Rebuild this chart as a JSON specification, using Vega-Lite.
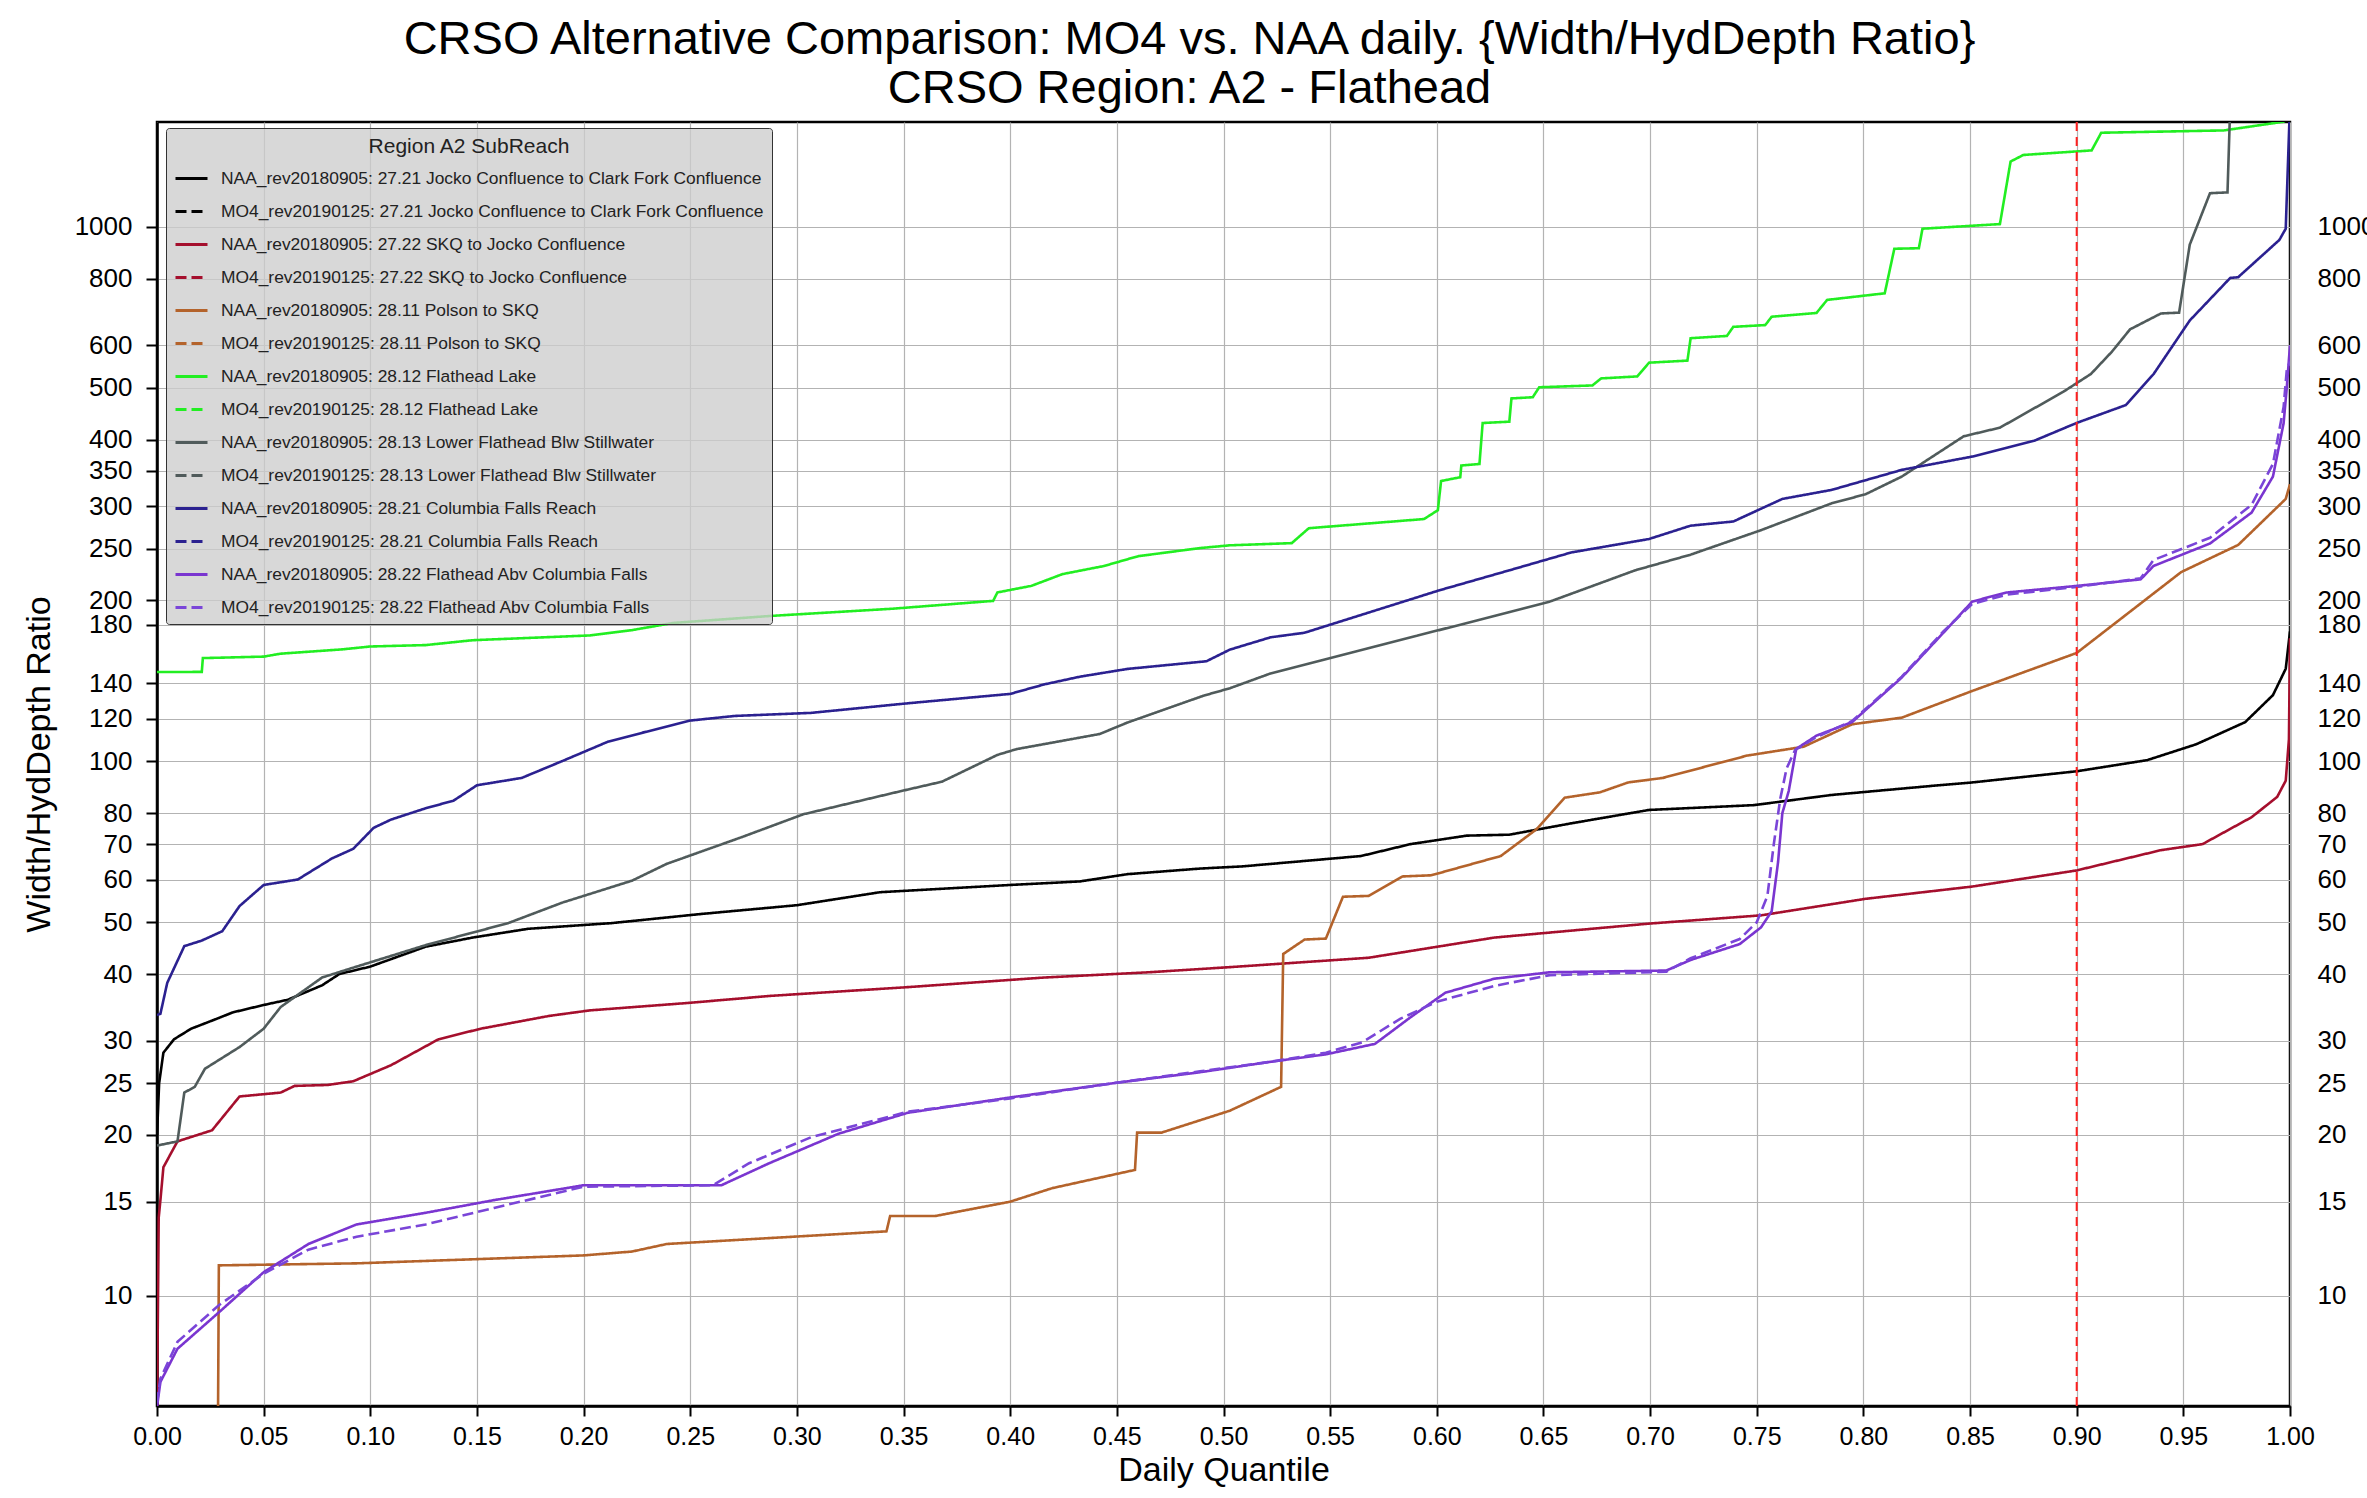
{
  "$schema": "https://vega.github.io/schema/vega-lite/v6.json",
  "autosize": "none",
  "width": 2133,
  "height": 1284,
  "padding": {"left": 157, "top": 122, "right": 77, "bottom": 92},
  "background": "white",
  "title": {
    "text": ["CRSO Alternative Comparison: MO4 vs. NAA daily. {Width/HydDepth Ratio}", "CRSO Region: A2 - Flathead"],
    "fontSize": 47, "fontWeight": "normal", "font": "Liberation Sans", "color": "black",
    "anchor": "middle", "dx": -34, "dy": 49, "lineHeight": 49, "offset": 10, "baseline": "bottom", "limit": 2300
  },
  "datasets": {
    "naa": [
      {"s":"NAA_rev20180905: 27.21 Jocko Confluence to Clark Fork Confluence","q":0,"v":20},
      {"s":"NAA_rev20180905: 27.21 Jocko Confluence to Clark Fork Confluence","q":0.001,"v":25},
      {"s":"NAA_rev20180905: 27.21 Jocko Confluence to Clark Fork Confluence","q":0.003,"v":28.5},
      {"s":"NAA_rev20180905: 27.21 Jocko Confluence to Clark Fork Confluence","q":0.008,"v":30.2},
      {"s":"NAA_rev20180905: 27.21 Jocko Confluence to Clark Fork Confluence","q":0.016,"v":31.6},
      {"s":"NAA_rev20180905: 27.21 Jocko Confluence to Clark Fork Confluence","q":0.029,"v":33.1},
      {"s":"NAA_rev20180905: 27.21 Jocko Confluence to Clark Fork Confluence","q":0.0355,"v":33.9},
      {"s":"NAA_rev20180905: 27.21 Jocko Confluence to Clark Fork Confluence","q":0.05,"v":35.0},
      {"s":"NAA_rev20180905: 27.21 Jocko Confluence to Clark Fork Confluence","q":0.0613,"v":35.8},
      {"s":"NAA_rev20180905: 27.21 Jocko Confluence to Clark Fork Confluence","q":0.0774,"v":38.1},
      {"s":"NAA_rev20180905: 27.21 Jocko Confluence to Clark Fork Confluence","q":0.0855,"v":40.0},
      {"s":"NAA_rev20180905: 27.21 Jocko Confluence to Clark Fork Confluence","q":0.1,"v":41.3},
      {"s":"NAA_rev20180905: 27.21 Jocko Confluence to Clark Fork Confluence","q":0.126,"v":45.0},
      {"s":"NAA_rev20180905: 27.21 Jocko Confluence to Clark Fork Confluence","q":0.148,"v":46.8},
      {"s":"NAA_rev20180905: 27.21 Jocko Confluence to Clark Fork Confluence","q":0.174,"v":48.6},
      {"s":"NAA_rev20180905: 27.21 Jocko Confluence to Clark Fork Confluence","q":0.2,"v":49.4},
      {"s":"NAA_rev20180905: 27.21 Jocko Confluence to Clark Fork Confluence","q":0.213,"v":49.8},
      {"s":"NAA_rev20180905: 27.21 Jocko Confluence to Clark Fork Confluence","q":0.255,"v":51.8},
      {"s":"NAA_rev20180905: 27.21 Jocko Confluence to Clark Fork Confluence","q":0.3,"v":53.8},
      {"s":"NAA_rev20180905: 27.21 Jocko Confluence to Clark Fork Confluence","q":0.339,"v":56.9},
      {"s":"NAA_rev20180905: 27.21 Jocko Confluence to Clark Fork Confluence","q":0.4,"v":58.7},
      {"s":"NAA_rev20180905: 27.21 Jocko Confluence to Clark Fork Confluence","q":0.4326,"v":59.6},
      {"s":"NAA_rev20180905: 27.21 Jocko Confluence to Clark Fork Confluence","q":0.455,"v":61.5},
      {"s":"NAA_rev20180905: 27.21 Jocko Confluence to Clark Fork Confluence","q":0.489,"v":63.0},
      {"s":"NAA_rev20180905: 27.21 Jocko Confluence to Clark Fork Confluence","q":0.509,"v":63.6},
      {"s":"NAA_rev20180905: 27.21 Jocko Confluence to Clark Fork Confluence","q":0.5645,"v":66.5},
      {"s":"NAA_rev20180905: 27.21 Jocko Confluence to Clark Fork Confluence","q":0.5877,"v":70.0},
      {"s":"NAA_rev20180905: 27.21 Jocko Confluence to Clark Fork Confluence","q":0.614,"v":72.6},
      {"s":"NAA_rev20180905: 27.21 Jocko Confluence to Clark Fork Confluence","q":0.634,"v":72.9},
      {"s":"NAA_rev20180905: 27.21 Jocko Confluence to Clark Fork Confluence","q":0.6634,"v":76.6},
      {"s":"NAA_rev20180905: 27.21 Jocko Confluence to Clark Fork Confluence","q":0.6995,"v":81.1},
      {"s":"NAA_rev20180905: 27.21 Jocko Confluence to Clark Fork Confluence","q":0.7487,"v":82.8},
      {"s":"NAA_rev20180905: 27.21 Jocko Confluence to Clark Fork Confluence","q":0.785,"v":86.5},
      {"s":"NAA_rev20180905: 27.21 Jocko Confluence to Clark Fork Confluence","q":0.834,"v":90.1},
      {"s":"NAA_rev20180905: 27.21 Jocko Confluence to Clark Fork Confluence","q":0.851,"v":91.3},
      {"s":"NAA_rev20180905: 27.21 Jocko Confluence to Clark Fork Confluence","q":0.9,"v":95.8},
      {"s":"NAA_rev20180905: 27.21 Jocko Confluence to Clark Fork Confluence","q":0.933,"v":100.5},
      {"s":"NAA_rev20180905: 27.21 Jocko Confluence to Clark Fork Confluence","q":0.956,"v":107.6},
      {"s":"NAA_rev20180905: 27.21 Jocko Confluence to Clark Fork Confluence","q":0.979,"v":118.4},
      {"s":"NAA_rev20180905: 27.21 Jocko Confluence to Clark Fork Confluence","q":0.992,"v":133},
      {"s":"NAA_rev20180905: 27.21 Jocko Confluence to Clark Fork Confluence","q":0.998,"v":149},
      {"s":"NAA_rev20180905: 27.21 Jocko Confluence to Clark Fork Confluence","q":1.0,"v":175},

      {"s":"NAA_rev20180905: 27.22 SKQ to Jocko Confluence","q":0,"v":6.0},
      {"s":"NAA_rev20180905: 27.22 SKQ to Jocko Confluence","q":0.0008,"v":14},
      {"s":"NAA_rev20180905: 27.22 SKQ to Jocko Confluence","q":0.0016,"v":15.1},
      {"s":"NAA_rev20180905: 27.22 SKQ to Jocko Confluence","q":0.003,"v":17.4},
      {"s":"NAA_rev20180905: 27.22 SKQ to Jocko Confluence","q":0.0096,"v":19.45},
      {"s":"NAA_rev20180905: 27.22 SKQ to Jocko Confluence","q":0.0258,"v":20.4},
      {"s":"NAA_rev20180905: 27.22 SKQ to Jocko Confluence","q":0.0387,"v":23.6},
      {"s":"NAA_rev20180905: 27.22 SKQ to Jocko Confluence","q":0.058,"v":24.0},
      {"s":"NAA_rev20180905: 27.22 SKQ to Jocko Confluence","q":0.0645,"v":24.7},
      {"s":"NAA_rev20180905: 27.22 SKQ to Jocko Confluence","q":0.08,"v":24.8},
      {"s":"NAA_rev20180905: 27.22 SKQ to Jocko Confluence","q":0.092,"v":25.2},
      {"s":"NAA_rev20180905: 27.22 SKQ to Jocko Confluence","q":0.1097,"v":27.0},
      {"s":"NAA_rev20180905: 27.22 SKQ to Jocko Confluence","q":0.132,"v":30.2},
      {"s":"NAA_rev20180905: 27.22 SKQ to Jocko Confluence","q":0.1517,"v":31.6},
      {"s":"NAA_rev20180905: 27.22 SKQ to Jocko Confluence","q":0.184,"v":33.4},
      {"s":"NAA_rev20180905: 27.22 SKQ to Jocko Confluence","q":0.203,"v":34.2},
      {"s":"NAA_rev20180905: 27.22 SKQ to Jocko Confluence","q":0.2486,"v":35.3},
      {"s":"NAA_rev20180905: 27.22 SKQ to Jocko Confluence","q":0.2875,"v":36.4},
      {"s":"NAA_rev20180905: 27.22 SKQ to Jocko Confluence","q":0.352,"v":37.8},
      {"s":"NAA_rev20180905: 27.22 SKQ to Jocko Confluence","q":0.416,"v":39.4},
      {"s":"NAA_rev20180905: 27.22 SKQ to Jocko Confluence","q":0.465,"v":40.3},
      {"s":"NAA_rev20180905: 27.22 SKQ to Jocko Confluence","q":0.503,"v":41.2},
      {"s":"NAA_rev20180905: 27.22 SKQ to Jocko Confluence","q":0.568,"v":42.9},
      {"s":"NAA_rev20180905: 27.22 SKQ to Jocko Confluence","q":0.627,"v":46.8},
      {"s":"NAA_rev20180905: 27.22 SKQ to Jocko Confluence","q":0.6995,"v":49.7},
      {"s":"NAA_rev20180905: 27.22 SKQ to Jocko Confluence","q":0.752,"v":51.5},
      {"s":"NAA_rev20180905: 27.22 SKQ to Jocko Confluence","q":0.801,"v":55.3},
      {"s":"NAA_rev20180905: 27.22 SKQ to Jocko Confluence","q":0.851,"v":58.3},
      {"s":"NAA_rev20180905: 27.22 SKQ to Jocko Confluence","q":0.9,"v":62.5},
      {"s":"NAA_rev20180905: 27.22 SKQ to Jocko Confluence","q":0.9395,"v":68.2},
      {"s":"NAA_rev20180905: 27.22 SKQ to Jocko Confluence","q":0.959,"v":70.0},
      {"s":"NAA_rev20180905: 27.22 SKQ to Jocko Confluence","q":0.982,"v":78.6},
      {"s":"NAA_rev20180905: 27.22 SKQ to Jocko Confluence","q":0.994,"v":85.8},
      {"s":"NAA_rev20180905: 27.22 SKQ to Jocko Confluence","q":0.998,"v":92},
      {"s":"NAA_rev20180905: 27.22 SKQ to Jocko Confluence","q":0.9995,"v":110},
      {"s":"NAA_rev20180905: 27.22 SKQ to Jocko Confluence","q":1.0,"v":170},

      {"s":"NAA_rev20180905: 28.11 Polson to SKQ","q":0.0285,"v":5},
      {"s":"NAA_rev20180905: 28.11 Polson to SKQ","q":0.029,"v":11.4},
      {"s":"NAA_rev20180905: 28.11 Polson to SKQ","q":0.0936,"v":11.5},
      {"s":"NAA_rev20180905: 28.11 Polson to SKQ","q":0.2,"v":11.9},
      {"s":"NAA_rev20180905: 28.11 Polson to SKQ","q":0.2227,"v":12.1},
      {"s":"NAA_rev20180905: 28.11 Polson to SKQ","q":0.239,"v":12.5},
      {"s":"NAA_rev20180905: 28.11 Polson to SKQ","q":0.342,"v":13.2},
      {"s":"NAA_rev20180905: 28.11 Polson to SKQ","q":0.3437,"v":14.1},
      {"s":"NAA_rev20180905: 28.11 Polson to SKQ","q":0.3648,"v":14.1},
      {"s":"NAA_rev20180905: 28.11 Polson to SKQ","q":0.4,"v":15.0},
      {"s":"NAA_rev20180905: 28.11 Polson to SKQ","q":0.4197,"v":15.9},
      {"s":"NAA_rev20180905: 28.11 Polson to SKQ","q":0.4585,"v":17.2},
      {"s":"NAA_rev20180905: 28.11 Polson to SKQ","q":0.4595,"v":20.2},
      {"s":"NAA_rev20180905: 28.11 Polson to SKQ","q":0.471,"v":20.2},
      {"s":"NAA_rev20180905: 28.11 Polson to SKQ","q":0.489,"v":21.3},
      {"s":"NAA_rev20180905: 28.11 Polson to SKQ","q":0.503,"v":22.2},
      {"s":"NAA_rev20180905: 28.11 Polson to SKQ","q":0.527,"v":24.6},
      {"s":"NAA_rev20180905: 28.11 Polson to SKQ","q":0.528,"v":43.6},
      {"s":"NAA_rev20180905: 28.11 Polson to SKQ","q":0.538,"v":46.4},
      {"s":"NAA_rev20180905: 28.11 Polson to SKQ","q":0.548,"v":46.6},
      {"s":"NAA_rev20180905: 28.11 Polson to SKQ","q":0.556,"v":55.8},
      {"s":"NAA_rev20180905: 28.11 Polson to SKQ","q":0.568,"v":56.0},
      {"s":"NAA_rev20180905: 28.11 Polson to SKQ","q":0.584,"v":60.9},
      {"s":"NAA_rev20180905: 28.11 Polson to SKQ","q":0.5974,"v":61.2},
      {"s":"NAA_rev20180905: 28.11 Polson to SKQ","q":0.63,"v":66.5},
      {"s":"NAA_rev20180905: 28.11 Polson to SKQ","q":0.6467,"v":74.6},
      {"s":"NAA_rev20180905: 28.11 Polson to SKQ","q":0.66,"v":85.5},
      {"s":"NAA_rev20180905: 28.11 Polson to SKQ","q":0.6765,"v":87.5},
      {"s":"NAA_rev20180905: 28.11 Polson to SKQ","q":0.6897,"v":91.3},
      {"s":"NAA_rev20180905: 28.11 Polson to SKQ","q":0.706,"v":93.1},
      {"s":"NAA_rev20180905: 28.11 Polson to SKQ","q":0.7455,"v":102.5},
      {"s":"NAA_rev20180905: 28.11 Polson to SKQ","q":0.772,"v":106.5},
      {"s":"NAA_rev20180905: 28.11 Polson to SKQ","q":0.7947,"v":117.3},
      {"s":"NAA_rev20180905: 28.11 Polson to SKQ","q":0.818,"v":120.7},
      {"s":"NAA_rev20180905: 28.11 Polson to SKQ","q":0.851,"v":135.4},
      {"s":"NAA_rev20180905: 28.11 Polson to SKQ","q":0.9,"v":159.5},
      {"s":"NAA_rev20180905: 28.11 Polson to SKQ","q":0.949,"v":226},
      {"s":"NAA_rev20180905: 28.11 Polson to SKQ","q":0.9757,"v":254},
      {"s":"NAA_rev20180905: 28.11 Polson to SKQ","q":0.998,"v":309.7},
      {"s":"NAA_rev20180905: 28.11 Polson to SKQ","q":1.0,"v":330},

      {"s":"NAA_rev20180905: 28.12 Flathead Lake","q":0,"v":146.9},
      {"s":"NAA_rev20180905: 28.12 Flathead Lake","q":0.021,"v":147},
      {"s":"NAA_rev20180905: 28.12 Flathead Lake","q":0.0215,"v":156},
      {"s":"NAA_rev20180905: 28.12 Flathead Lake","q":0.05,"v":157},
      {"s":"NAA_rev20180905: 28.12 Flathead Lake","q":0.058,"v":159},
      {"s":"NAA_rev20180905: 28.12 Flathead Lake","q":0.087,"v":162},
      {"s":"NAA_rev20180905: 28.12 Flathead Lake","q":0.1,"v":164},
      {"s":"NAA_rev20180905: 28.12 Flathead Lake","q":0.126,"v":165},
      {"s":"NAA_rev20180905: 28.12 Flathead Lake","q":0.148,"v":168.5},
      {"s":"NAA_rev20180905: 28.12 Flathead Lake","q":0.203,"v":172},
      {"s":"NAA_rev20180905: 28.12 Flathead Lake","q":0.2227,"v":176},
      {"s":"NAA_rev20180905: 28.12 Flathead Lake","q":0.242,"v":181.5},
      {"s":"NAA_rev20180905: 28.12 Flathead Lake","q":0.287,"v":187},
      {"s":"NAA_rev20180905: 28.12 Flathead Lake","q":0.345,"v":193},
      {"s":"NAA_rev20180905: 28.12 Flathead Lake","q":0.392,"v":199.6},
      {"s":"NAA_rev20180905: 28.12 Flathead Lake","q":0.394,"v":207},
      {"s":"NAA_rev20180905: 28.12 Flathead Lake","q":0.41,"v":213},
      {"s":"NAA_rev20180905: 28.12 Flathead Lake","q":0.4245,"v":224},
      {"s":"NAA_rev20180905: 28.12 Flathead Lake","q":0.444,"v":232},
      {"s":"NAA_rev20180905: 28.12 Flathead Lake","q":0.46,"v":242},
      {"s":"NAA_rev20180905: 28.12 Flathead Lake","q":0.489,"v":250.6},
      {"s":"NAA_rev20180905: 28.12 Flathead Lake","q":0.503,"v":253.6},
      {"s":"NAA_rev20180905: 28.12 Flathead Lake","q":0.532,"v":256},
      {"s":"NAA_rev20180905: 28.12 Flathead Lake","q":0.54,"v":273},
      {"s":"NAA_rev20180905: 28.12 Flathead Lake","q":0.594,"v":284},
      {"s":"NAA_rev20180905: 28.12 Flathead Lake","q":0.6005,"v":295},
      {"s":"NAA_rev20180905: 28.12 Flathead Lake","q":0.602,"v":334.6},
      {"s":"NAA_rev20180905: 28.12 Flathead Lake","q":0.611,"v":340},
      {"s":"NAA_rev20180905: 28.12 Flathead Lake","q":0.6115,"v":357.7},
      {"s":"NAA_rev20180905: 28.12 Flathead Lake","q":0.62,"v":360},
      {"s":"NAA_rev20180905: 28.12 Flathead Lake","q":0.6215,"v":429.5},
      {"s":"NAA_rev20180905: 28.12 Flathead Lake","q":0.634,"v":432},
      {"s":"NAA_rev20180905: 28.12 Flathead Lake","q":0.635,"v":477.5},
      {"s":"NAA_rev20180905: 28.12 Flathead Lake","q":0.645,"v":480},
      {"s":"NAA_rev20180905: 28.12 Flathead Lake","q":0.648,"v":501},
      {"s":"NAA_rev20180905: 28.12 Flathead Lake","q":0.673,"v":505},
      {"s":"NAA_rev20180905: 28.12 Flathead Lake","q":0.677,"v":520.5},
      {"s":"NAA_rev20180905: 28.12 Flathead Lake","q":0.694,"v":525},
      {"s":"NAA_rev20180905: 28.12 Flathead Lake","q":0.6995,"v":557},
      {"s":"NAA_rev20180905: 28.12 Flathead Lake","q":0.7175,"v":562},
      {"s":"NAA_rev20180905: 28.12 Flathead Lake","q":0.719,"v":619},
      {"s":"NAA_rev20180905: 28.12 Flathead Lake","q":0.736,"v":625},
      {"s":"NAA_rev20180905: 28.12 Flathead Lake","q":0.739,"v":650},
      {"s":"NAA_rev20180905: 28.12 Flathead Lake","q":0.754,"v":655},
      {"s":"NAA_rev20180905: 28.12 Flathead Lake","q":0.757,"v":679},
      {"s":"NAA_rev20180905: 28.12 Flathead Lake","q":0.778,"v":690},
      {"s":"NAA_rev20180905: 28.12 Flathead Lake","q":0.783,"v":730},
      {"s":"NAA_rev20180905: 28.12 Flathead Lake","q":0.81,"v":751},
      {"s":"NAA_rev20180905: 28.12 Flathead Lake","q":0.8145,"v":910},
      {"s":"NAA_rev20180905: 28.12 Flathead Lake","q":0.826,"v":912},
      {"s":"NAA_rev20180905: 28.12 Flathead Lake","q":0.8277,"v":992},
      {"s":"NAA_rev20180905: 28.12 Flathead Lake","q":0.864,"v":1012},
      {"s":"NAA_rev20180905: 28.12 Flathead Lake","q":0.869,"v":1325},
      {"s":"NAA_rev20180905: 28.12 Flathead Lake","q":0.875,"v":1363},
      {"s":"NAA_rev20180905: 28.12 Flathead Lake","q":0.907,"v":1390},
      {"s":"NAA_rev20180905: 28.12 Flathead Lake","q":0.9115,"v":1500},
      {"s":"NAA_rev20180905: 28.12 Flathead Lake","q":0.969,"v":1515},
      {"s":"NAA_rev20180905: 28.12 Flathead Lake","q":0.997,"v":1573},
      {"s":"NAA_rev20180905: 28.12 Flathead Lake","q":1.0,"v":1600},

      {"s":"NAA_rev20180905: 28.13 Lower Flathead Blw Stillwater","q":0,"v":19.1},
      {"s":"NAA_rev20180905: 28.13 Lower Flathead Blw Stillwater","q":0.0096,"v":19.45},
      {"s":"NAA_rev20180905: 28.13 Lower Flathead Blw Stillwater","q":0.0128,"v":24.0},
      {"s":"NAA_rev20180905: 28.13 Lower Flathead Blw Stillwater","q":0.0177,"v":24.6},
      {"s":"NAA_rev20180905: 28.13 Lower Flathead Blw Stillwater","q":0.0225,"v":26.6},
      {"s":"NAA_rev20180905: 28.13 Lower Flathead Blw Stillwater","q":0.0387,"v":29.2},
      {"s":"NAA_rev20180905: 28.13 Lower Flathead Blw Stillwater","q":0.05,"v":31.6},
      {"s":"NAA_rev20180905: 28.13 Lower Flathead Blw Stillwater","q":0.058,"v":34.7},
      {"s":"NAA_rev20180905: 28.13 Lower Flathead Blw Stillwater","q":0.0774,"v":39.4},
      {"s":"NAA_rev20180905: 28.13 Lower Flathead Blw Stillwater","q":0.0936,"v":41.3},
      {"s":"NAA_rev20180905: 28.13 Lower Flathead Blw Stillwater","q":0.126,"v":45.3},
      {"s":"NAA_rev20180905: 28.13 Lower Flathead Blw Stillwater","q":0.1646,"v":49.8},
      {"s":"NAA_rev20180905: 28.13 Lower Flathead Blw Stillwater","q":0.19,"v":54.4},
      {"s":"NAA_rev20180905: 28.13 Lower Flathead Blw Stillwater","q":0.2227,"v":59.8},
      {"s":"NAA_rev20180905: 28.13 Lower Flathead Blw Stillwater","q":0.239,"v":64.3},
      {"s":"NAA_rev20180905: 28.13 Lower Flathead Blw Stillwater","q":0.274,"v":72.1},
      {"s":"NAA_rev20180905: 28.13 Lower Flathead Blw Stillwater","q":0.303,"v":79.6},
      {"s":"NAA_rev20180905: 28.13 Lower Flathead Blw Stillwater","q":0.3485,"v":87.9},
      {"s":"NAA_rev20180905: 28.13 Lower Flathead Blw Stillwater","q":0.368,"v":91.6},
      {"s":"NAA_rev20180905: 28.13 Lower Flathead Blw Stillwater","q":0.394,"v":102.8},
      {"s":"NAA_rev20180905: 28.13 Lower Flathead Blw Stillwater","q":0.403,"v":105.4},
      {"s":"NAA_rev20180905: 28.13 Lower Flathead Blw Stillwater","q":0.442,"v":112.5},
      {"s":"NAA_rev20180905: 28.13 Lower Flathead Blw Stillwater","q":0.455,"v":118.2},
      {"s":"NAA_rev20180905: 28.13 Lower Flathead Blw Stillwater","q":0.4907,"v":132.7},
      {"s":"NAA_rev20180905: 28.13 Lower Flathead Blw Stillwater","q":0.503,"v":137},
      {"s":"NAA_rev20180905: 28.13 Lower Flathead Blw Stillwater","q":0.522,"v":146},
      {"s":"NAA_rev20180905: 28.13 Lower Flathead Blw Stillwater","q":0.571,"v":164},
      {"s":"NAA_rev20180905: 28.13 Lower Flathead Blw Stillwater","q":0.62,"v":184},
      {"s":"NAA_rev20180905: 28.13 Lower Flathead Blw Stillwater","q":0.653,"v":199},
      {"s":"NAA_rev20180905: 28.13 Lower Flathead Blw Stillwater","q":0.693,"v":227.7},
      {"s":"NAA_rev20180905: 28.13 Lower Flathead Blw Stillwater","q":0.719,"v":243.6},
      {"s":"NAA_rev20180905: 28.13 Lower Flathead Blw Stillwater","q":0.752,"v":270.7},
      {"s":"NAA_rev20180905: 28.13 Lower Flathead Blw Stillwater","q":0.785,"v":303.8},
      {"s":"NAA_rev20180905: 28.13 Lower Flathead Blw Stillwater","q":0.801,"v":316},
      {"s":"NAA_rev20180905: 28.13 Lower Flathead Blw Stillwater","q":0.818,"v":341},
      {"s":"NAA_rev20180905: 28.13 Lower Flathead Blw Stillwater","q":0.847,"v":405.6},
      {"s":"NAA_rev20180905: 28.13 Lower Flathead Blw Stillwater","q":0.864,"v":421},
      {"s":"NAA_rev20180905: 28.13 Lower Flathead Blw Stillwater","q":0.8936,"v":491},
      {"s":"NAA_rev20180905: 28.13 Lower Flathead Blw Stillwater","q":0.9067,"v":530.7},
      {"s":"NAA_rev20180905: 28.13 Lower Flathead Blw Stillwater","q":0.9166,"v":584.6},
      {"s":"NAA_rev20180905: 28.13 Lower Flathead Blw Stillwater","q":0.925,"v":643},
      {"s":"NAA_rev20180905: 28.13 Lower Flathead Blw Stillwater","q":0.9395,"v":688.6},
      {"s":"NAA_rev20180905: 28.13 Lower Flathead Blw Stillwater","q":0.948,"v":691},
      {"s":"NAA_rev20180905: 28.13 Lower Flathead Blw Stillwater","q":0.953,"v":926},
      {"s":"NAA_rev20180905: 28.13 Lower Flathead Blw Stillwater","q":0.9625,"v":1156},
      {"s":"NAA_rev20180905: 28.13 Lower Flathead Blw Stillwater","q":0.9707,"v":1160},
      {"s":"NAA_rev20180905: 28.13 Lower Flathead Blw Stillwater","q":0.972,"v":1700},

      {"s":"NAA_rev20180905: 28.21 Columbia Falls Reach","q":0,"v":33.5},
      {"s":"NAA_rev20180905: 28.21 Columbia Falls Reach","q":0.0016,"v":33.7},
      {"s":"NAA_rev20180905: 28.21 Columbia Falls Reach","q":0.0048,"v":38.5},
      {"s":"NAA_rev20180905: 28.21 Columbia Falls Reach","q":0.0128,"v":45.1},
      {"s":"NAA_rev20180905: 28.21 Columbia Falls Reach","q":0.021,"v":46.2},
      {"s":"NAA_rev20180905: 28.21 Columbia Falls Reach","q":0.0306,"v":48.1},
      {"s":"NAA_rev20180905: 28.21 Columbia Falls Reach","q":0.0387,"v":53.6},
      {"s":"NAA_rev20180905: 28.21 Columbia Falls Reach","q":0.05,"v":58.7},
      {"s":"NAA_rev20180905: 28.21 Columbia Falls Reach","q":0.066,"v":60.1},
      {"s":"NAA_rev20180905: 28.21 Columbia Falls Reach","q":0.082,"v":65.8},
      {"s":"NAA_rev20180905: 28.21 Columbia Falls Reach","q":0.092,"v":68.6},
      {"s":"NAA_rev20180905: 28.21 Columbia Falls Reach","q":0.1016,"v":75.1},
      {"s":"NAA_rev20180905: 28.21 Columbia Falls Reach","q":0.1097,"v":77.8},
      {"s":"NAA_rev20180905: 28.21 Columbia Falls Reach","q":0.126,"v":81.7},
      {"s":"NAA_rev20180905: 28.21 Columbia Falls Reach","q":0.139,"v":84.4},
      {"s":"NAA_rev20180905: 28.21 Columbia Falls Reach","q":0.15,"v":90.2},
      {"s":"NAA_rev20180905: 28.21 Columbia Falls Reach","q":0.171,"v":93.1},
      {"s":"NAA_rev20180905: 28.21 Columbia Falls Reach","q":0.1905,"v":100.3},
      {"s":"NAA_rev20180905: 28.21 Columbia Falls Reach","q":0.2116,"v":108.9},
      {"s":"NAA_rev20180905: 28.21 Columbia Falls Reach","q":0.229,"v":113.5},
      {"s":"NAA_rev20180905: 28.21 Columbia Falls Reach","q":0.25,"v":119.2},
      {"s":"NAA_rev20180905: 28.21 Columbia Falls Reach","q":0.271,"v":121.6},
      {"s":"NAA_rev20180905: 28.21 Columbia Falls Reach","q":0.3066,"v":123.2},
      {"s":"NAA_rev20180905: 28.21 Columbia Falls Reach","q":0.352,"v":128.4},
      {"s":"NAA_rev20180905: 28.21 Columbia Falls Reach","q":0.4,"v":133.7},
      {"s":"NAA_rev20180905: 28.21 Columbia Falls Reach","q":0.416,"v":139.3},
      {"s":"NAA_rev20180905: 28.21 Columbia Falls Reach","q":0.4327,"v":144},
      {"s":"NAA_rev20180905: 28.21 Columbia Falls Reach","q":0.455,"v":148.9},
      {"s":"NAA_rev20180905: 28.21 Columbia Falls Reach","q":0.492,"v":153.9},
      {"s":"NAA_rev20180905: 28.21 Columbia Falls Reach","q":0.503,"v":161.8},
      {"s":"NAA_rev20180905: 28.21 Columbia Falls Reach","q":0.522,"v":170.6},
      {"s":"NAA_rev20180905: 28.21 Columbia Falls Reach","q":0.538,"v":174},
      {"s":"NAA_rev20180905: 28.21 Columbia Falls Reach","q":0.601,"v":208.8},
      {"s":"NAA_rev20180905: 28.21 Columbia Falls Reach","q":0.634,"v":227.7},
      {"s":"NAA_rev20180905: 28.21 Columbia Falls Reach","q":0.663,"v":245.9},
      {"s":"NAA_rev20180905: 28.21 Columbia Falls Reach","q":0.6995,"v":260.6},
      {"s":"NAA_rev20180905: 28.21 Columbia Falls Reach","q":0.719,"v":276},
      {"s":"NAA_rev20180905: 28.21 Columbia Falls Reach","q":0.739,"v":281},
      {"s":"NAA_rev20180905: 28.21 Columbia Falls Reach","q":0.762,"v":309.7},
      {"s":"NAA_rev20180905: 28.21 Columbia Falls Reach","q":0.785,"v":321.9},
      {"s":"NAA_rev20180905: 28.21 Columbia Falls Reach","q":0.818,"v":351},
      {"s":"NAA_rev20180905: 28.21 Columbia Falls Reach","q":0.851,"v":371.7},
      {"s":"NAA_rev20180905: 28.21 Columbia Falls Reach","q":0.88,"v":397.8},
      {"s":"NAA_rev20180905: 28.21 Columbia Falls Reach","q":0.9,"v":429.7},
      {"s":"NAA_rev20180905: 28.21 Columbia Falls Reach","q":0.923,"v":464},
      {"s":"NAA_rev20180905: 28.21 Columbia Falls Reach","q":0.936,"v":530},
      {"s":"NAA_rev20180905: 28.21 Columbia Falls Reach","q":0.953,"v":668},
      {"s":"NAA_rev20180905: 28.21 Columbia Falls Reach","q":0.972,"v":802.6},
      {"s":"NAA_rev20180905: 28.21 Columbia Falls Reach","q":0.9757,"v":805},
      {"s":"NAA_rev20180905: 28.21 Columbia Falls Reach","q":0.995,"v":945},
      {"s":"NAA_rev20180905: 28.21 Columbia Falls Reach","q":0.998,"v":992},
      {"s":"NAA_rev20180905: 28.21 Columbia Falls Reach","q":1.0,"v":1700},

      {"s":"NAA_rev20180905: 28.22 Flathead Abv Columbia Falls","q":0,"v":6.2},
      {"s":"NAA_rev20180905: 28.22 Flathead Abv Columbia Falls","q":0.0016,"v":6.9},
      {"s":"NAA_rev20180905: 28.22 Flathead Abv Columbia Falls","q":0.0096,"v":7.96},
      {"s":"NAA_rev20180905: 28.22 Flathead Abv Columbia Falls","q":0.029,"v":9.31},
      {"s":"NAA_rev20180905: 28.22 Flathead Abv Columbia Falls","q":0.05,"v":11.07},
      {"s":"NAA_rev20180905: 28.22 Flathead Abv Columbia Falls","q":0.071,"v":12.5},
      {"s":"NAA_rev20180905: 28.22 Flathead Abv Columbia Falls","q":0.0936,"v":13.6},
      {"s":"NAA_rev20180905: 28.22 Flathead Abv Columbia Falls","q":0.126,"v":14.3},
      {"s":"NAA_rev20180905: 28.22 Flathead Abv Columbia Falls","q":0.158,"v":15.1},
      {"s":"NAA_rev20180905: 28.22 Flathead Abv Columbia Falls","q":0.2,"v":16.1},
      {"s":"NAA_rev20180905: 28.22 Flathead Abv Columbia Falls","q":0.2646,"v":16.1},
      {"s":"NAA_rev20180905: 28.22 Flathead Abv Columbia Falls","q":0.287,"v":17.7},
      {"s":"NAA_rev20180905: 28.22 Flathead Abv Columbia Falls","q":0.3195,"v":20.1},
      {"s":"NAA_rev20180905: 28.22 Flathead Abv Columbia Falls","q":0.352,"v":22.0},
      {"s":"NAA_rev20180905: 28.22 Flathead Abv Columbia Falls","q":0.4,"v":23.5},
      {"s":"NAA_rev20180905: 28.22 Flathead Abv Columbia Falls","q":0.4487,"v":25.0},
      {"s":"NAA_rev20180905: 28.22 Flathead Abv Columbia Falls","q":0.489,"v":26.2},
      {"s":"NAA_rev20180905: 28.22 Flathead Abv Columbia Falls","q":0.522,"v":27.4},
      {"s":"NAA_rev20180905: 28.22 Flathead Abv Columbia Falls","q":0.548,"v":28.3},
      {"s":"NAA_rev20180905: 28.22 Flathead Abv Columbia Falls","q":0.571,"v":29.6},
      {"s":"NAA_rev20180905: 28.22 Flathead Abv Columbia Falls","q":0.5877,"v":33.2},
      {"s":"NAA_rev20180905: 28.22 Flathead Abv Columbia Falls","q":0.604,"v":36.9},
      {"s":"NAA_rev20180905: 28.22 Flathead Abv Columbia Falls","q":0.627,"v":39.2},
      {"s":"NAA_rev20180905: 28.22 Flathead Abv Columbia Falls","q":0.653,"v":40.3},
      {"s":"NAA_rev20180905: 28.22 Flathead Abv Columbia Falls","q":0.7076,"v":40.6},
      {"s":"NAA_rev20180905: 28.22 Flathead Abv Columbia Falls","q":0.719,"v":42.5},
      {"s":"NAA_rev20180905: 28.22 Flathead Abv Columbia Falls","q":0.742,"v":45.5},
      {"s":"NAA_rev20180905: 28.22 Flathead Abv Columbia Falls","q":0.752,"v":48.9},
      {"s":"NAA_rev20180905: 28.22 Flathead Abv Columbia Falls","q":0.757,"v":52.4},
      {"s":"NAA_rev20180905: 28.22 Flathead Abv Columbia Falls","q":0.76,"v":64.8},
      {"s":"NAA_rev20180905: 28.22 Flathead Abv Columbia Falls","q":0.762,"v":80},
      {"s":"NAA_rev20180905: 28.22 Flathead Abv Columbia Falls","q":0.765,"v":88},
      {"s":"NAA_rev20180905: 28.22 Flathead Abv Columbia Falls","q":0.7685,"v":105.5},
      {"s":"NAA_rev20180905: 28.22 Flathead Abv Columbia Falls","q":0.778,"v":111.7},
      {"s":"NAA_rev20180905: 28.22 Flathead Abv Columbia Falls","q":0.7947,"v":118.4},
      {"s":"NAA_rev20180905: 28.22 Flathead Abv Columbia Falls","q":0.818,"v":143.5},
      {"s":"NAA_rev20180905: 28.22 Flathead Abv Columbia Falls","q":0.8375,"v":174},
      {"s":"NAA_rev20180905: 28.22 Flathead Abv Columbia Falls","q":0.851,"v":199},
      {"s":"NAA_rev20180905: 28.22 Flathead Abv Columbia Falls","q":0.867,"v":206.9},
      {"s":"NAA_rev20180905: 28.22 Flathead Abv Columbia Falls","q":0.9,"v":212.9},
      {"s":"NAA_rev20180905: 28.22 Flathead Abv Columbia Falls","q":0.93,"v":219},
      {"s":"NAA_rev20180905: 28.22 Flathead Abv Columbia Falls","q":0.936,"v":232},
      {"s":"NAA_rev20180905: 28.22 Flathead Abv Columbia Falls","q":0.9625,"v":255.6},
      {"s":"NAA_rev20180905: 28.22 Flathead Abv Columbia Falls","q":0.982,"v":292},
      {"s":"NAA_rev20180905: 28.22 Flathead Abv Columbia Falls","q":0.992,"v":341},
      {"s":"NAA_rev20180905: 28.22 Flathead Abv Columbia Falls","q":0.997,"v":429},
      {"s":"NAA_rev20180905: 28.22 Flathead Abv Columbia Falls","q":0.9985,"v":501},
      {"s":"NAA_rev20180905: 28.22 Flathead Abv Columbia Falls","q":1.0,"v":600}
    ],
    "mo4": [
      {"s":"MO4_rev20190125: 28.22 Flathead Abv Columbia Falls","q":0,"v":6.3},
      {"s":"MO4_rev20190125: 28.22 Flathead Abv Columbia Falls","q":0.0016,"v":7.0},
      {"s":"MO4_rev20190125: 28.22 Flathead Abv Columbia Falls","q":0.0096,"v":8.2},
      {"s":"MO4_rev20190125: 28.22 Flathead Abv Columbia Falls","q":0.029,"v":9.6},
      {"s":"MO4_rev20190125: 28.22 Flathead Abv Columbia Falls","q":0.05,"v":11.0},
      {"s":"MO4_rev20190125: 28.22 Flathead Abv Columbia Falls","q":0.071,"v":12.2},
      {"s":"MO4_rev20190125: 28.22 Flathead Abv Columbia Falls","q":0.0936,"v":12.9},
      {"s":"MO4_rev20190125: 28.22 Flathead Abv Columbia Falls","q":0.126,"v":13.6},
      {"s":"MO4_rev20190125: 28.22 Flathead Abv Columbia Falls","q":0.158,"v":14.6},
      {"s":"MO4_rev20190125: 28.22 Flathead Abv Columbia Falls","q":0.2,"v":16.0},
      {"s":"MO4_rev20190125: 28.22 Flathead Abv Columbia Falls","q":0.2606,"v":16.1},
      {"s":"MO4_rev20190125: 28.22 Flathead Abv Columbia Falls","q":0.2776,"v":17.7},
      {"s":"MO4_rev20190125: 28.22 Flathead Abv Columbia Falls","q":0.3066,"v":19.8},
      {"s":"MO4_rev20190125: 28.22 Flathead Abv Columbia Falls","q":0.352,"v":22.1},
      {"s":"MO4_rev20190125: 28.22 Flathead Abv Columbia Falls","q":0.4,"v":23.4},
      {"s":"MO4_rev20190125: 28.22 Flathead Abv Columbia Falls","q":0.4487,"v":25.0},
      {"s":"MO4_rev20190125: 28.22 Flathead Abv Columbia Falls","q":0.489,"v":26.3},
      {"s":"MO4_rev20190125: 28.22 Flathead Abv Columbia Falls","q":0.522,"v":27.4},
      {"s":"MO4_rev20190125: 28.22 Flathead Abv Columbia Falls","q":0.548,"v":28.5},
      {"s":"MO4_rev20190125: 28.22 Flathead Abv Columbia Falls","q":0.565,"v":29.8},
      {"s":"MO4_rev20190125: 28.22 Flathead Abv Columbia Falls","q":0.583,"v":33.0},
      {"s":"MO4_rev20190125: 28.22 Flathead Abv Columbia Falls","q":0.6,"v":35.5},
      {"s":"MO4_rev20190125: 28.22 Flathead Abv Columbia Falls","q":0.627,"v":38.0},
      {"s":"MO4_rev20190125: 28.22 Flathead Abv Columbia Falls","q":0.653,"v":39.8},
      {"s":"MO4_rev20190125: 28.22 Flathead Abv Columbia Falls","q":0.7076,"v":40.4},
      {"s":"MO4_rev20190125: 28.22 Flathead Abv Columbia Falls","q":0.719,"v":42.8},
      {"s":"MO4_rev20190125: 28.22 Flathead Abv Columbia Falls","q":0.742,"v":46.5},
      {"s":"MO4_rev20190125: 28.22 Flathead Abv Columbia Falls","q":0.75,"v":50.0},
      {"s":"MO4_rev20190125: 28.22 Flathead Abv Columbia Falls","q":0.755,"v":56},
      {"s":"MO4_rev20190125: 28.22 Flathead Abv Columbia Falls","q":0.758,"v":70},
      {"s":"MO4_rev20190125: 28.22 Flathead Abv Columbia Falls","q":0.761,"v":85},
      {"s":"MO4_rev20190125: 28.22 Flathead Abv Columbia Falls","q":0.764,"v":97},
      {"s":"MO4_rev20190125: 28.22 Flathead Abv Columbia Falls","q":0.768,"v":105},
      {"s":"MO4_rev20190125: 28.22 Flathead Abv Columbia Falls","q":0.778,"v":111},
      {"s":"MO4_rev20190125: 28.22 Flathead Abv Columbia Falls","q":0.7947,"v":119},
      {"s":"MO4_rev20190125: 28.22 Flathead Abv Columbia Falls","q":0.818,"v":144},
      {"s":"MO4_rev20190125: 28.22 Flathead Abv Columbia Falls","q":0.8375,"v":175},
      {"s":"MO4_rev20190125: 28.22 Flathead Abv Columbia Falls","q":0.851,"v":197},
      {"s":"MO4_rev20190125: 28.22 Flathead Abv Columbia Falls","q":0.867,"v":205},
      {"s":"MO4_rev20190125: 28.22 Flathead Abv Columbia Falls","q":0.9,"v":212},
      {"s":"MO4_rev20190125: 28.22 Flathead Abv Columbia Falls","q":0.93,"v":220},
      {"s":"MO4_rev20190125: 28.22 Flathead Abv Columbia Falls","q":0.936,"v":238},
      {"s":"MO4_rev20190125: 28.22 Flathead Abv Columbia Falls","q":0.9625,"v":262},
      {"s":"MO4_rev20190125: 28.22 Flathead Abv Columbia Falls","q":0.982,"v":302},
      {"s":"MO4_rev20190125: 28.22 Flathead Abv Columbia Falls","q":0.992,"v":360},
      {"s":"MO4_rev20190125: 28.22 Flathead Abv Columbia Falls","q":0.997,"v":460},
      {"s":"MO4_rev20190125: 28.22 Flathead Abv Columbia Falls","q":0.9985,"v":540},
      {"s":"MO4_rev20190125: 28.22 Flathead Abv Columbia Falls","q":1.0,"v":560}
    ],
    "ref": [{"q": 0.9}]
  },
  "layer": [
    {
      "data": {"name": "naa"},
      "mark": {"type": "line", "clip": true, "strokeWidth": 2.6},
      "encoding": {
        "x": {"field": "q", "type": "quantitative", "title": "Daily Quantile",
              "scale": {"domain": [0, 1], "nice": false, "zero": false},
              "axis": {"values": [0,0.05,0.1,0.15,0.2,0.25,0.3,0.35,0.4,0.45,0.5,0.55,0.6,0.65,0.7,0.75,0.8,0.85,0.9,0.95,1.0],
                       "format": ".2f", "labelFontSize": 25, "titleFontSize": 34, "tickSize": 10, "labelPadding": 8, "titlePadding": 4,
                       "grid": true, "labelFlush": false, "labelOverlap": false}},
        "y": {"field": "v", "type": "quantitative", "title": "Width/HydDepth Ratio",
              "scale": {"type": "log", "domain": [6.22, 1571], "nice": false, "zero": false},
              "axis": {"orient": "left", "values": [10,15,20,25,30,40,50,60,70,80,100,120,140,180,200,250,300,350,400,500,600,800,1000],
                       "format": "d", "labelFontSize": 26, "titleFontSize": 34, "tickSize": 11, "labelPadding": 14, "titlePadding": 18,
                       "grid": true, "labelFlush": false, "labelOverlap": false}},
        "color": {"field": "s", "type": "nominal", "title": "Region A2 SubReach",
                  "scale": {"domain": [
                    "NAA_rev20180905: 27.21 Jocko Confluence to Clark Fork Confluence",
                    "MO4_rev20190125: 27.21 Jocko Confluence to Clark Fork Confluence",
                    "NAA_rev20180905: 27.22 SKQ to Jocko Confluence",
                    "MO4_rev20190125: 27.22 SKQ to Jocko Confluence",
                    "NAA_rev20180905: 28.11 Polson to SKQ",
                    "MO4_rev20190125: 28.11 Polson to SKQ",
                    "NAA_rev20180905: 28.12 Flathead Lake",
                    "MO4_rev20190125: 28.12 Flathead Lake",
                    "NAA_rev20180905: 28.13 Lower Flathead Blw Stillwater",
                    "MO4_rev20190125: 28.13 Lower Flathead Blw Stillwater",
                    "NAA_rev20180905: 28.21 Columbia Falls Reach",
                    "MO4_rev20190125: 28.21 Columbia Falls Reach",
                    "NAA_rev20180905: 28.22 Flathead Abv Columbia Falls",
                    "MO4_rev20190125: 28.22 Flathead Abv Columbia Falls"],
                    "range": ["#000000","#000000","#a50f2d","#a50f2d","#b4632b","#b4632b","#22ee22","#22ee22","#505b5b","#505b5b","#2b2190","#2b2190","#7a35d0","#7a45d8"]},
                  "legend": {"orient": "none", "legendX": 9, "legendY": 6,
                             "titleFontSize": 21, "titleFontWeight": "normal", "titleAnchor": "middle", "titleColor": "#222222", "titleFont": "Liberation Sans", "titlePadding": 4, "titleLimit": 700,
                             "labelFontSize": 17.4, "labelFont": "Liberation Sans", "labelColor": "#222222", "labelLimit": 700, "labelOffset": 12,
                             "symbolType": "stroke", "symbolSize": 1024, "symbolStrokeWidth": 3,
                             "rowPadding": 7, "fillColor": "rgba(205,205,205,0.78)", "strokeColor": "#333333", "padding": 8, "cornerRadius": 3}},
        "strokeDash": {"field": "s", "type": "nominal", "title": "Region A2 SubReach",
                  "scale": {"domain": [
                    "NAA_rev20180905: 27.21 Jocko Confluence to Clark Fork Confluence",
                    "MO4_rev20190125: 27.21 Jocko Confluence to Clark Fork Confluence",
                    "NAA_rev20180905: 27.22 SKQ to Jocko Confluence",
                    "MO4_rev20190125: 27.22 SKQ to Jocko Confluence",
                    "NAA_rev20180905: 28.11 Polson to SKQ",
                    "MO4_rev20190125: 28.11 Polson to SKQ",
                    "NAA_rev20180905: 28.12 Flathead Lake",
                    "MO4_rev20190125: 28.12 Flathead Lake",
                    "NAA_rev20180905: 28.13 Lower Flathead Blw Stillwater",
                    "MO4_rev20190125: 28.13 Lower Flathead Blw Stillwater",
                    "NAA_rev20180905: 28.21 Columbia Falls Reach",
                    "MO4_rev20190125: 28.21 Columbia Falls Reach",
                    "NAA_rev20180905: 28.22 Flathead Abv Columbia Falls",
                    "MO4_rev20190125: 28.22 Flathead Abv Columbia Falls"],
                    "range": [[1,0],[11,5],[1,0],[11,5],[1,0],[11,5],[1,0],[11,5],[1,0],[11,5],[1,0],[11,5],[1,0],[11,5]]}}
      }
    },
    {
      "data": {"name": "mo4"},
      "mark": {"type": "line", "clip": true, "strokeWidth": 2.6},
      "encoding": {
        "x": {"field": "q", "type": "quantitative", "title": "Daily Quantile"},
        "y": {"field": "v", "type": "quantitative", "title": null,
              "axis": {"orient": "right", "values": [10,15,20,25,30,40,50,60,70,80,100,120,140,180,200,250,300,350,400,500,600,800,1000],
                       "format": "d", "labelFontSize": 26, "ticks": false, "tickSize": 0, "labelPadding": 27, "domain": false, "grid": false, "labelFlush": false, "labelOverlap": false}},
        "color": {"field": "s", "type": "nominal", "title": "Region A2 SubReach"},
        "strokeDash": {"field": "s", "type": "nominal", "title": "Region A2 SubReach"}
      }
    },
    {
      "data": {"name": "ref"},
      "mark": {"type": "rule", "color": "#ff2020", "strokeWidth": 2, "strokeDash": [9, 6]},
      "encoding": {"x": {"field": "q", "type": "quantitative", "title": "Daily Quantile"}}
    }
  ],
  "resolve": {"axis": {"y": "independent"}},
  "config": {
    "font": "Liberation Sans",
    "view": {"stroke": "black", "strokeWidth": 2.5},
    "axis": {"labelFont": "Liberation Sans", "titleFont": "Liberation Sans", "labelColor": "black", "titleColor": "black",
             "titleFontWeight": "normal", "gridColor": "#b3b3b3", "gridWidth": 1.2, "domainColor": "black", "domainWidth": 2.5,
             "tickColor": "black", "tickWidth": 2}
  }
}
